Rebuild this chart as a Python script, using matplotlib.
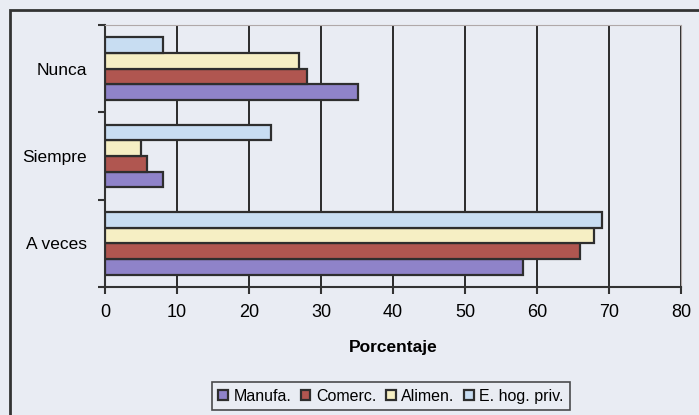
import numpy as np
import matplotlib
matplotlib.use("Agg")
from matplotlib import pyplot as plt
from matplotlib.patches import Rectangle

# data
categorias = ["A veces", "Siempre", "Nunca"]
manufa = [58.1, 8.1, 35.1]
comerc = [66.0, 5.9, 28.0]
alimen = [67.9, 5.0, 26.9]
hogar = [69.0, 23.0, 8.1]

series = [
    ("Manufa.", manufa, "#8f83c9"),
    ("Comerc.", comerc, "#b05650"),
    ("Alimen.", alimen, "#f6efc4"),
    ("E. hog. priv.", hogar, "#c8ddf2"),
]

plt.rcParams['font.family'] = ['Liberation Sans', 'DejaVu Sans']
bg = "#e9ecf3"

fig = plt.figure(figsize=(6.99, 4.15), dpi=100, facecolor=bg)
ax = fig.add_axes([105/699, 1 - 287/415, 576/699, 262/415])
ax.set_facecolor(bg)

# outer frame of the chart
fig.patches.append(Rectangle((10/699, -0.1), 1.0, 1 - 10/415 + 0.1,
                             transform=fig.transFigure, fill=False,
                             edgecolor="#333333", linewidth=2))

y = np.arange(len(categorias))
h = 0.18
for k, (name, vals, col) in enumerate(series):
    ax.barh(y - 1.5*h + k*h, vals, height=h, color=col, edgecolor="#2e2e2e",
            linewidth=1.6, label=name, zorder=3)

ax.set_xlim(0, 80)
ax.set_ylim(-0.5, 2.5)
ax.set_xticks(range(0, 81, 10))
ax.set_yticks(y)
ax.set_yticklabels(categorias, fontsize=12.5)
ax.set_yticks([-0.5, 0.5, 1.5, 2.5], minor=True)
ax.tick_params(axis='y', which='major', length=0, pad=13)
ax.tick_params(axis='y', which='minor', length=5, width=1.5, color="#333333")
ax.tick_params(axis='x', length=5, width=1.5, color="#333333", labelsize=13, pad=7)
ax.grid(axis='x', color="#2a2a2a", linewidth=1.4, zorder=0)

for s in ['top', 'right']:
    ax.spines[s].set_color("#b0a8a8")
    ax.spines[s].set_linestyle((0, (2, 1)))
for s in ['left', 'bottom']:
    ax.spines[s].set_color("#333333")
    ax.spines[s].set_linewidth(1.5)

ax.set_xlabel("Porcentaje", fontsize=12.5, fontweight='bold', labelpad=14)

leg = fig.legend(loc='center', bbox_to_anchor=(391/699, 1 - 396/415), ncol=4,
                 fontsize=11.5, frameon=True, fancybox=False, handlelength=0.6,
                 handleheight=0.6, handletextpad=0.35, columnspacing=0.6,
                 borderpad=0.4)
leg.get_frame().set_edgecolor("#222222")
leg.get_frame().set_linewidth(1.2)
leg.get_frame().set_facecolor(bg)

fig.savefig("out.png", dpi=100, facecolor=bg)
